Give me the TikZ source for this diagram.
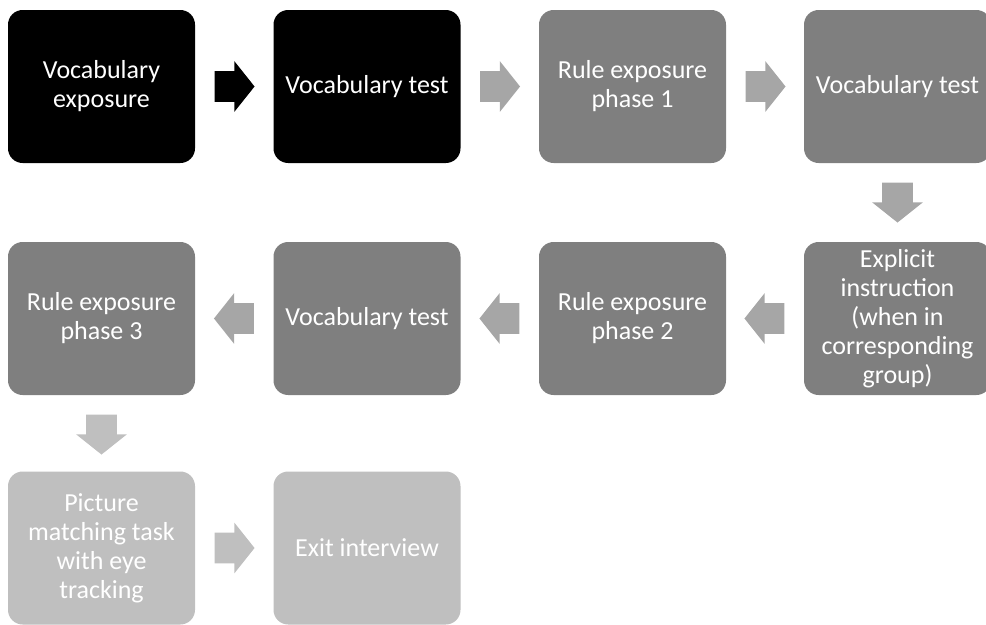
\documentclass[tikz,border=0pt]{standalone}
\usepackage{fontspec}
\setmainfont{Carlito}
\usetikzlibrary{shapes.arrows,calc}
\definecolor{stepblack}{HTML}{000000}
\definecolor{stepgray}{HTML}{7F7F7F}
\definecolor{steplight}{HTML}{BFBFBF}
\definecolor{arrowgray}{HTML}{A6A6A6}
\tikzset{
  stepbox/.style={rectangle,rounded corners=11pt,minimum width=140.25pt,minimum height=114.75pt,
    inner sep=0pt,align=center,text=white,font=\fontsize{19.5}{21.75}\selectfont},
  blockarrow/.style={single arrow,single arrow head extend=7.5pt,single arrow tip angle=103,
    single arrow head indent=0pt,minimum width=37.5pt,minimum height=30pt,
    inner xsep=0pt,inner ysep=11.25pt,anchor=tail},
}
\begin{document}
\begin{tikzpicture}[x=0.75pt,y=-0.75pt]
    \clip (0,0) rectangle (986,625);
    % first row
    \node[stepbox,fill=stepblack] (vocexp) at (101.5,86.5) {Vocabulary\\exposure};
    \node[stepbox,fill=stepblack] (voctesta) at (367,86.5) {Vocabulary test};
    \node[stepbox,fill=stepgray] (rulea) at (632.5,86.5) {Rule exposure\\phase 1};
    \node[stepbox,fill=stepgray] (voctestb) at (897.5,86.5) {Vocabulary test};
    % second row
    \node[stepbox,fill=stepgray] (explicit) at (897.5,318.5) {Explicit\\instruction\\(when in\\corresponding\\group)};
    \node[stepbox,fill=stepgray] (ruleb) at (632.5,318.5) {Rule exposure\\phase 2};
    \node[stepbox,fill=stepgray] (voctestc) at (367,318.5) {Vocabulary test};
    \node[stepbox,fill=stepgray] (rulec) at (101.5,318.5) {Rule exposure\\phase 3};
    % third row
    \node[stepbox,fill=steplight] (picmatch) at (101.5,548) {Picture\\matching task\\with eye\\tracking};
    \node[stepbox,fill=steplight] (exit) at (367,548) {Exit interview};
    % arrows
    \node[blockarrow,fill=stepblack] (arra) at ($(vocexp.east)!14.25pt!(voctesta.west)$) {};
    \node[blockarrow,fill=arrowgray] (arrb) at ($(voctesta.east)!14.25pt!(rulea.west)$) {};
    \node[blockarrow,fill=arrowgray] (arrc) at ($(rulea.east)!14.25pt!(voctestb.west)$) {};
    \node[blockarrow,fill=arrowgray,rotate=-90] (arrd) at ($(voctestb.south)!14.25pt!(explicit.north)$) {};
    \node[blockarrow,fill=arrowgray,rotate=180] (arre) at ($(explicit.west)!14.25pt!(ruleb.east)$) {};
    \node[blockarrow,fill=arrowgray,rotate=180] (arrf) at ($(ruleb.west)!14.25pt!(voctestc.east)$) {};
    \node[blockarrow,fill=arrowgray,rotate=180] (arrg) at ($(voctestc.west)!14.25pt!(rulec.east)$) {};
    \node[blockarrow,fill=steplight,rotate=-90] (arrh) at ($(rulec.south)!14.25pt!(picmatch.north)$) {};
    \node[blockarrow,fill=steplight] (arri) at ($(picmatch.east)!14.25pt!(exit.west)$) {};
\end{tikzpicture}
\end{document}
